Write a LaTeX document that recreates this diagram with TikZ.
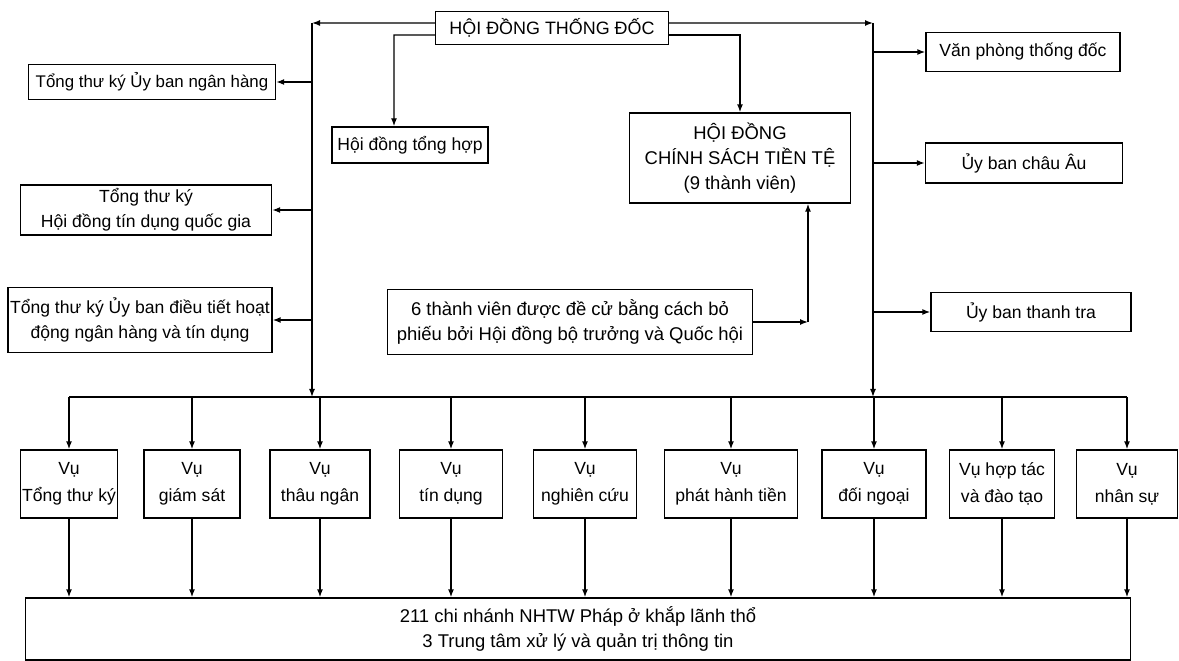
\documentclass[tikz,border=0pt]{standalone}
\usepackage{fontspec}
\setmainfont{Liberation Sans}
\usepackage{tikz}
\usetikzlibrary{arrows.meta}

\begin{document}
\begin{tikzpicture}[
			x=0.02cm, y=-0.02cm,
			box/.style={draw,line width=0.8pt,align=center,inner sep=1pt,font=\fontsize{10}{14.5}\selectfont},
			bigbox/.style={box,font=\fontsize{10.5}{14.2}\selectfont},
			vubox/.style={box,minimum height=1.36cm,font=\fontsize{10}{15.4}\selectfont},
			arrow/.style={-{Latex[length=1.6mm,width=1.2mm]},line width=0.8pt}
			]
			\useasboundingbox (0,0) rectangle (1179,661);
			\node[box, minimum width=4.66cm, minimum height=0.66cm, font=\fontsize{10.2}{12}\selectfont] (gov) at (552,28) {HỘI ĐỒNG THỐNG ĐỐC};
			\node[box, minimum width=4.94cm, minimum height=0.70cm, font=\fontsize{9.6}{12}\selectfont] (ttnh) at (152,82) {Tổng thư ký Ủy ban ngân hàng};
			\node[box, minimum width=5.02cm, minimum height=1.00cm] (tttd) at (146,210) {Tổng thư ký\\Hội đồng tín dụng quốc gia};
			\node[box, minimum width=5.28cm, minimum height=1.30cm] (ttdt) at (140,320) {Tổng thư ký Ủy ban điều tiết hoạt\\động ngân hàng và tín dụng};
			\node[box, minimum width=3.12cm, minimum height=0.72cm] (tonghop) at (410,145) {Hội đồng tổng hợp};
			\node[bigbox, minimum width=4.42cm, minimum height=1.80cm] (mon) at (740,158) {HỘI ĐỒNG\\CHÍNH SÁCH TIỀN TỆ\\(9 thành viên)};
			\node[bigbox, minimum width=7.30cm, minimum height=1.30cm] (six) at (570,322) {6 thành viên được đề cử bằng cách bỏ\\phiếu bởi Hội đồng bộ trưởng và Quốc hội};
			\node[box, minimum width=3.88cm, minimum height=0.78cm] (vpt) at (1023,52) {Văn phòng thống đốc};
			\node[box, minimum width=3.94cm, minimum height=0.80cm] (chauau) at (1024,163) {Ủy ban châu Âu};
			\node[box, minimum width=4.00cm, minimum height=0.78cm] (thanhtra) at (1031,312) {Ủy ban thanh tra};
			\node[vubox, minimum width=1.88cm] (v1) at (69,484) {Vụ\\Tổng thư ký};
			\node[vubox, minimum width=1.92cm] (v2) at (192,484) {Vụ\\giám sát};
			\node[vubox, minimum width=2.00cm] (v3) at (320,484) {Vụ\\thâu ngân};
			\node[vubox, minimum width=2.06cm] (v4) at (451,484) {Vụ\\tín dụng};
			\node[vubox, minimum width=2.06cm] (v5) at (585,484) {Vụ\\nghiên cứu};
			\node[vubox, minimum width=2.66cm] (v6) at (731,484) {Vụ\\phát hành tiền};
			\node[vubox, minimum width=2.08cm] (v7) at (874,484) {Vụ\\đối ngoại};
			\node[vubox, minimum width=2.10cm] (v8) at (1002,484) {Vụ hợp tác\\và đào tạo};
			\node[vubox, minimum width=2.02cm] (v9) at (1127,484) {Vụ\\nhân sự};
			\node[bigbox, minimum width=22.10cm, minimum height=1.24cm] (chinhanh) at (578,629) {211 chi nhánh NHTW Pháp ở khắp lãnh thổ\\3 Trung tâm xử lý và quản trị thông tin};
			\coordinate (ltop) at (312,23);
			\coordinate (rtop) at (873,23);
			\coordinate (thtop) at (394,35);
			\coordinate (vote) at (808,322);
			\coordinate (bus) at (0,397);
			\draw[arrow] ([yshift=1mm]gov.west)--(ltop);
			\draw[arrow] ([yshift=1mm]gov.east)--(rtop);
			\draw[arrow] ([yshift=-1.4mm]gov.west)--(thtop)--(thtop |- tonghop.north);
			\draw[arrow] ([yshift=-1.4mm]gov.east)-|(mon.north);
			\draw[arrow] (six.east)--(vote);
			\draw[arrow] (vote)--(vote |- mon.south);
			\draw[arrow] (ltop)--(ltop |- bus);
			\draw[arrow] (rtop)--(rtop |- bus);
			\draw[arrow] (ltop |- ttnh.east)--(ttnh.east);
			\draw[arrow] (ltop |- tttd.east)--(tttd.east);
			\draw[arrow] (ltop |- ttdt.east)--(ttdt.east);
			\draw[arrow] (rtop |- vpt.west)--(vpt.west);
			\draw[arrow] (rtop |- chauau.west)--(chauau.west);
			\draw[arrow] (rtop |- thanhtra.west)--(thanhtra.west);
			\draw[line width=0.8pt] (v1.north |- bus)--(v9.north |- bus);
			\draw[arrow] (v1.north |- bus)--(v1.north);
			\draw[arrow] (v2.north |- bus)--(v2.north);
			\draw[arrow] (v3.north |- bus)--(v3.north);
			\draw[arrow] (v4.north |- bus)--(v4.north);
			\draw[arrow] (v5.north |- bus)--(v5.north);
			\draw[arrow] (v6.north |- bus)--(v6.north);
			\draw[arrow] (v7.north |- bus)--(v7.north);
			\draw[arrow] (v8.north |- bus)--(v8.north);
			\draw[arrow] (v9.north |- bus)--(v9.north);
			\draw[arrow] (v1.south)--(v1.south |- chinhanh.north);
			\draw[arrow] (v2.south)--(v2.south |- chinhanh.north);
			\draw[arrow] (v3.south)--(v3.south |- chinhanh.north);
			\draw[arrow] (v4.south)--(v4.south |- chinhanh.north);
			\draw[arrow] (v5.south)--(v5.south |- chinhanh.north);
			\draw[arrow] (v6.south)--(v6.south |- chinhanh.north);
			\draw[arrow] (v7.south)--(v7.south |- chinhanh.north);
			\draw[arrow] (v8.south)--(v8.south |- chinhanh.north);
			\draw[arrow] (v9.south)--(v9.south |- chinhanh.north);
		\end{tikzpicture}
\end{document}
